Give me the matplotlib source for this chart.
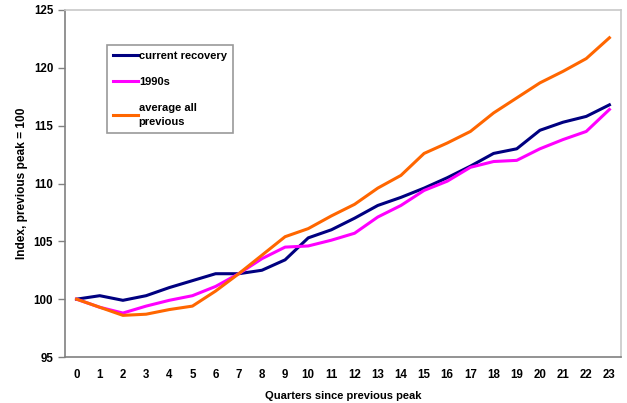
import matplotlib
matplotlib.use("Agg")
import matplotlib.pyplot as plt

quarters = list(range(24))
current_recovery = [100.0, 100.3, 99.9, 100.3, 101.0, 101.6, 102.2, 102.2, 102.5, 103.4,
                    105.3, 106.0, 107.0, 108.1, 108.8, 109.6, 110.5, 111.5, 112.6, 113.0,
                    114.6, 115.3, 115.8, 116.8]
nineties = [100.0, 99.3, 98.8, 99.4, 99.9, 100.3, 101.1, 102.2, 103.5, 104.5,
            104.6, 105.1, 105.7, 107.1, 108.1, 109.4, 110.2, 111.4, 111.9, 112.0,
            113.0, 113.8, 114.5, 116.4]
avg_previous = [100.0, 99.3, 98.6, 98.7, 99.1, 99.4, 100.7, 102.2, 103.8, 105.4,
                106.1, 107.2, 108.2, 109.6, 110.7, 112.6, 113.5, 114.5, 116.1, 117.4,
                118.7, 119.7, 120.8, 122.6]

plt.rcParams['font.family'] = ['Liberation Sans', 'DejaVu Sans']

fig = plt.figure(figsize=(6.27, 4.03), dpi=100)
ax = fig.add_axes([65 / 627, 46 / 403, 556 / 627, 347 / 403])

ax.plot(quarters, current_recovery, color='#000080', lw=2.2, label='current recovery')
ax.plot(quarters, nineties, color='#ff00ff', lw=2.2, label='1990s')
ax.plot(quarters, avg_previous, color='#ff6600', lw=2.2, label='average all\nprevious')

ax.set_xlim(-0.5, 23.5)
ax.set_ylim(95, 125)
ax.set_xticks(quarters)
ax.set_yticks(range(95, 126, 5))
ax.tick_params(axis='x', length=0, pad=9, labelsize=8.3)
ax.tick_params(axis='y', length=5, width=1, color='#808080', labelsize=8.3)
for lab in ax.get_xticklabels() + ax.get_yticklabels():
    lab.set_fontweight('bold')

ax.spines['left'].set_color('#808080')
ax.spines['bottom'].set_color('#808080')
ax.spines['top'].set_color('#c8c8c8')
ax.spines['right'].set_color('#c8c8c8')
for s in ax.spines.values():
    s.set_linewidth(1.2)

ax.set_xlabel('Quarters since previous peak', fontsize=8, fontweight='bold', labelpad=6.5)
ax.set_ylabel('Index, previous peak = 100', fontsize=8.6, fontweight='bold', labelpad=4)

leg = ax.legend(loc='upper left', bbox_to_anchor=(36 / 556, 1 - 29 / 347), fontsize=8,
                frameon=True, fancybox=False, edgecolor='#808080', labelspacing=1.45,
                handlelength=2.2, handletextpad=0.1, borderpad=0.6)
leg.get_frame().set_linewidth(1.2)
for t in leg.get_texts():
    t.set_fontweight('bold')
    t.set_linespacing(1.4)

fig.savefig('out.png', dpi=100)
